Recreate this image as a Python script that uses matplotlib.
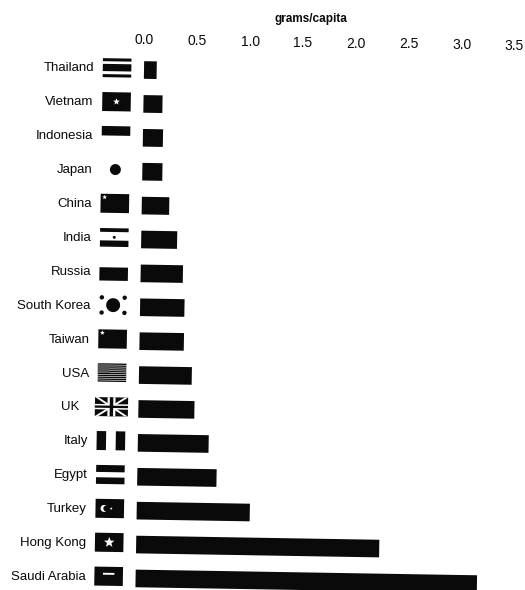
import matplotlib
matplotlib.use('Agg')
import matplotlib.pyplot as plt
import numpy as np
from matplotlib.patches import Rectangle, Polygon
from matplotlib.transforms import Affine2D

# Top to bottom, as printed
countries = ['Thailand', 'Vietnam', 'Indonesia', 'Japan', 'China', 'India',
             'Russia', 'South Korea', 'Taiwan', 'USA', 'UK', 'Italy',
             'Egypt', 'Turkey', 'Hong Kong', 'Saudi Arabia']
grams = [0.12, 0.18, 0.19, 0.19, 0.26, 0.34, 0.40, 0.42, 0.42, 0.50, 0.53,
         0.67, 0.75, 1.07, 2.30, 3.23]
ticks = [0.0, 0.5, 1.0, 1.5, 2.0, 2.5, 3.0, 3.5]
tick_labels = ['0.0', '0.5', '1.0', '1.5', '2.0', '2.5', '3.0', '3.5']

INK = '#0a0a0a'
FONT = ['Liberation Sans', 'DejaVu Sans']
W, H = 525, 590
PX_X = 105.7   # pixels per gram
PX_Y = 33.9    # pixels per row
X0, Y0 = 144, 70   # pixel of value 0 on the first row

fig = plt.figure(figsize=(W / 100, H / 100), dpi=100)
ax = fig.add_axes([0, 0, 1, 1])
ax.set_xlim(-X0 / PX_X, (W - X0) / PX_X)
ax.set_ylim((H - Y0) / PX_Y, -Y0 / PX_Y)
ax.axis('off')

# the page was scanned slightly crooked
skew = ax.transData + Affine2D().rotate_deg_around(X0, H - Y0, -0.95)


def draw_flag(name, row):
    """Draw a small black and white flag left of the bar."""
    w, h = 0.27, 0.56
    left = -0.39
    top = row - h / 2 - 0.05

    def part(fx, fy, fw, fh, color=INK):
        ax.add_patch(Rectangle((left + fx * w, top + fy * h), fw * w, fh * h,
                               facecolor=color, edgecolor='none',
                               transform=skew))

    def poly(points, color=INK):
        pts = [(left + fx * w, top + fy * h) for fx, fy in points]
        ax.add_patch(Polygon(pts, facecolor=color, edgecolor='none',
                             transform=skew))

    def blob(fx, fy, r, color='white'):
        # r is in pixels, the two axes have different scales
        t = np.linspace(0, 2 * np.pi, 24)
        xs = left + fx * w + r * np.cos(t) / PX_X
        ys = top + fy * h + r * np.sin(t) / PX_Y
        ax.add_patch(Polygon(np.column_stack([xs, ys]), facecolor=color,
                             edgecolor='none', transform=skew))

    def star(fx, fy, r, color='white'):
        t = -np.pi / 2 + np.arange(10) * np.pi / 5
        rad = np.where(np.arange(10) % 2 == 0, r, r * 0.42)
        xs = left + fx * w + rad * np.cos(t) / PX_X
        ys = top + fy * h + rad * np.sin(t) / PX_Y
        ax.add_patch(Polygon(np.column_stack([xs, ys]), facecolor=color,
                             edgecolor='none', transform=skew))

    if name == 'Thailand':
        part(0, 0, 1, 0.16)
        part(0, 0.3, 1, 0.38)
        part(0, 0.84, 1, 0.16)
    elif name == 'Vietnam':
        part(0, 0, 1, 1)
        star(0.5, 0.5, 3.5)
    elif name == 'Indonesia':
        part(0, 0, 1, 0.5)
    elif name == 'Japan':
        blob(0.5, 0.5, 5.5, INK)
    elif name in ('China', 'Taiwan'):
        part(0, 0, 1, 1)
        star(0.14, 0.18, 2.5)
    elif name == 'India':
        part(0, 0.02, 1, 0.2)
        blob(0.5, 0.5, 1.5, INK)
        part(0, 0.67, 1, 0.33)
    elif name == 'Russia':
        part(0, 0.3, 1, 0.7)
    elif name == 'South Korea':
        blob(0.5, 0.5, 7, INK)
        for fx, fy in [(0.1, 0.1), (0.9, 0.1), (0.1, 0.9), (0.9, 0.9)]:
            blob(fx, fy, 2.2, INK)
    elif name == 'USA':
        for i in range(10):
            part(0, i / 10, 1, 0.07)
        part(0, 0, 0.42, 0.5, '#555555')
    elif name == 'UK':
        part(-0.08, 0, 1.16, 1)
        for a, b in [(-0.08, 1.08), (1.08, -0.08)]:
            poly([(a, 0.0), (a + (0.12 if a < b else -0.12), 0.0),
                  (b, 1.0), (b - (0.12 if a < b else -0.12), 1.0)], 'white')
        part(-0.08, 0.36, 1.16, 0.28, 'white')
        part(0.36, 0, 0.28, 1, 'white')
        part(-0.08, 0.44, 1.16, 0.12)
        part(0.44, 0, 0.12, 1)
    elif name == 'Italy':
        part(0, 0, 0.33, 1)
        part(0.67, 0, 0.33, 1)
    elif name == 'Egypt':
        part(0, 0, 1, 0.37)
        part(0, 0.65, 1, 0.35)
    elif name == 'Turkey':
        part(0, 0, 1, 1)
        blob(0.3, 0.5, 3.5)
        blob(0.38, 0.5, 3.0, INK)
        star(0.55, 0.5, 1.5)
    elif name == 'Hong Kong':
        part(0, 0, 1, 1)
        star(0.5, 0.5, 5.5)
    elif name == 'Saudi Arabia':
        part(0, 0, 1, 1)
        part(0.3, 0.32, 0.4, 0.1, 'white')


rows = np.arange(len(countries))
ax.barh(rows, grams, height=0.52, color=INK, transform=skew)

for row, name in zip(rows, countries):
    draw_flag(name, row)
    label_x = -0.56 if name == 'UK' else -0.47
    ax.text(label_x, row - 0.02, name, ha='right', va='center', fontsize=9.5,
            family=FONT, color=INK, transform=skew)

for t, label in zip(ticks, tick_labels):
    ax.text(t, -0.885, label, ha='center', va='center', fontsize=10,
            family=FONT, color=INK, transform=skew)

ax.text(1.57, -1.6, 'grams/capita', ha='center', va='center', fontsize=8.5,
        fontweight='bold', family=FONT, color=INK, transform=skew)

fig.savefig('out.png', dpi=100, facecolor='white')
